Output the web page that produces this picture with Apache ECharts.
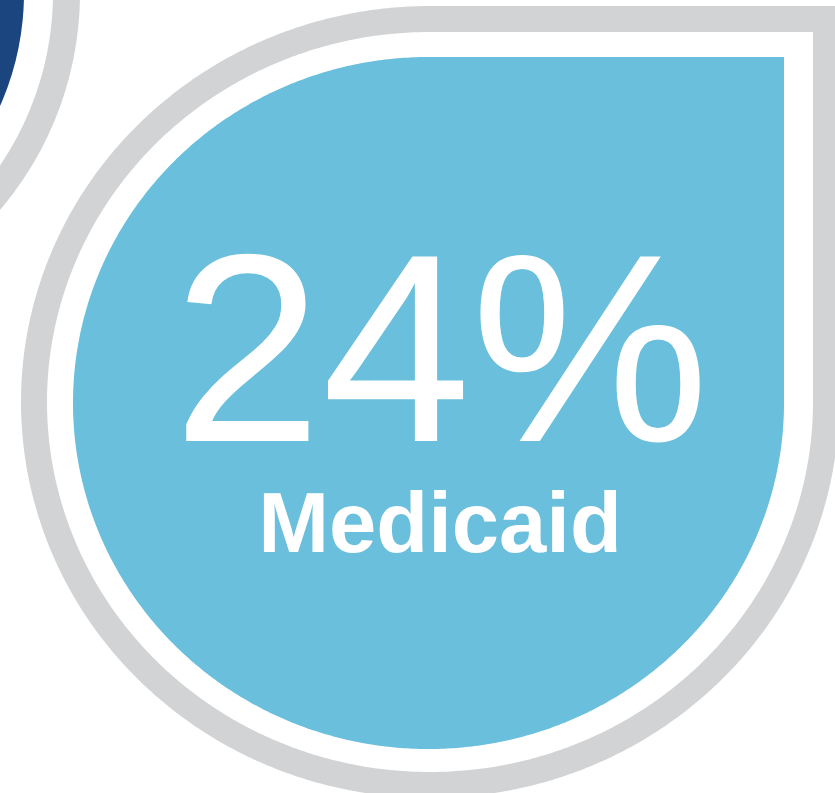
<!DOCTYPE html>
<html>
<head>
<meta charset="utf-8">
<style>
  html, body { margin: 0; padding: 0; background: #ffffff; }
  #chart { width: 835px; height: 793px; }
</style>
<script src="https://cdn.jsdelivr.net/npm/echarts@6/dist/echarts.min.js"></script>
</head>
<body>
<div id="chart"></div>
<script>
// Data
var percentValues = [24];
var categoryLabels = ['Medicaid'];

var chart = echarts.init(document.getElementById('chart'), null, { renderer: 'canvas' });

function dropPoints(cx, cy, rx, ry) {
  // ellipse whose top-right quadrant is replaced by a square corner
  var pts = [[cx + rx, cy - ry]];
  var n = 540;
  for (var i = 0; i <= n; i++) {
    var a = (i / n) * 1.5 * Math.PI; // from right, through bottom, left, to top
    pts.push([cx + rx * Math.cos(a), cy + ry * Math.sin(a)]);
  }
  return pts;
}

var GRAY = '#d1d3d4';
var LIGHT = '#69bfdc';
var DARK = '#1b457f';

var option = {
  backgroundColor: '#ffffff',
  animation: false,
  graphic: [
    // partial dark circle (top-left)
    { type: 'circle', z: 1, shape: { cx: -254, cy: -7, r: 334 }, style: { fill: GRAY } },
    { type: 'circle', z: 2, shape: { cx: -254, cy: -7, r: 307 }, style: { fill: '#ffffff' } },
    { type: 'circle', z: 3, shape: { cx: -254, cy: -7, r: 278 }, style: { fill: DARK } },
    // main drop
    { type: 'polygon', z: 4, shape: { points: dropPoints(430, 402, 409, 396) }, style: { fill: GRAY } },
    { type: 'polygon', z: 5, shape: { points: dropPoints(430, 402, 383, 370) }, style: { fill: '#ffffff' } },
    { type: 'polygon', z: 6, shape: { points: dropPoints(428.5, 403, 355.5, 346) }, style: { fill: LIGHT } },
    {
      type: 'text', z: 10,
      style: {
        text: percentValues[0] + '%',
        x: 441, y: 367,
        textAlign: 'center', textVerticalAlign: 'middle',
        font: '268px "Liberation Sans", Arial, sans-serif',
        fill: '#ffffff'
      }
    },
    {
      type: 'text', z: 10,
      style: {
        text: categoryLabels[0],
        x: 440, y: 528.5,
        textAlign: 'center', textVerticalAlign: 'middle',
        font: 'bold 85px "Liberation Sans", Arial, sans-serif',
        fill: '#ffffff'
      }
    }
  ]
};
chart.setOption(option);
</script>
</body>
</html>
